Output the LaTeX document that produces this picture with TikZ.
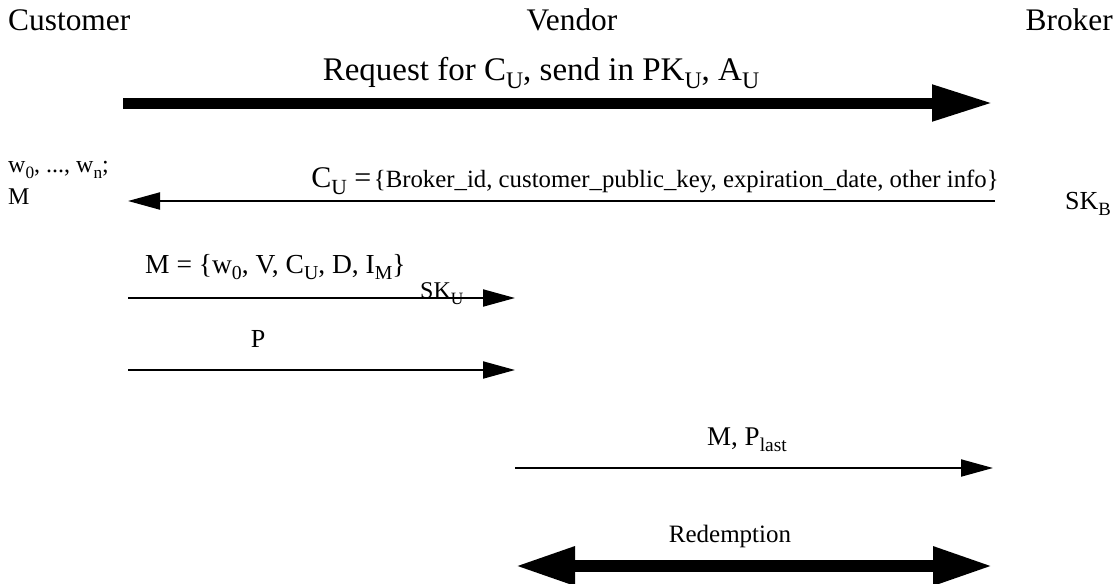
\documentclass[tikz,border=0pt]{standalone}
\usepackage{fontspec}
\setmainfont{Liberation Serif}
\usepackage{graphicx}
\usetikzlibrary{arrows.meta}
\newcommand{\sbs}[1]{\raisebox{-0.25em}{\scalebox{0.72}{#1}}}
\tikzset{
  party/.style={inner sep=0pt, font=\fontsize{31.4}{36}\selectfont},
  lbl/.style={inner sep=0pt, font=\fontsize{26}{30}\selectfont},
  small/.style={inner sep=0pt, font=\fontsize{24}{28}\selectfont},
  heavy/.style={line width=11pt, -{Triangle[length=61pt,width=34pt]}},
  heavyboth/.style={line width=12pt, {Triangle[length=60pt,width=36pt]}-{Triangle[length=60pt,width=36pt]}},
  light/.style={line width=2pt, -{Triangle[length=32pt,width=17pt]}},
}
\begin{document}
\begin{tikzpicture}[x=1pt,y=-1pt]
\useasboundingbox (0,0) rectangle (1120,584);
% parties
\node[party,anchor=base west] (cust) at (8,30) {Customer};
\node[party,anchor=base] (vend) at (572,30) {Vendor};
\node[party,anchor=base east] (brok) at (1113,30) {Broker};
% request
\coordinate (r1s) at (123,103);
\coordinate (r1e) at (993,103);
\draw[heavy] (r1s) -- (r1e);
\node[inner sep=0pt,anchor=base,font=\fontsize{33}{37}\selectfont] (req) at (541,80)
  {Request for C\sbs{U}, send in PK\sbs{U}, A\sbs{U}};
% certificate
\coordinate (c2s) at (995,201);
\coordinate (c2e) at (128,201);
\draw[light] (c2s) -- (c2e);
\node[inner sep=0pt,anchor=base] (cert) at (655,187)
  {{\fontsize{30}{34}\selectfont C\sbs{U} =} {\fontsize{24.8}{29}\selectfont\{Broker\_id, customer\_public\_key, expiration\_date, other info\}}};
\node[small,anchor=base west] (wl) at (8,172) {w\sbs{0}, ..., w\sbs{n};};
\node[small,anchor=base west] (ml) at (8,204) {M};
\node[inner sep=0pt,anchor=base west,font=\fontsize{26}{30}\selectfont] (skb) at (1065,209) {SK\sbs{B}};
% M message
\coordinate (m3s) at (128,298);
\coordinate (m3e) at (515,298);
\draw[light] (m3s) -- (m3e);
\node[inner sep=0pt,anchor=base west,font=\fontsize{27.5}{32}\selectfont] (mlbl) at (145,273) {M = \{w\sbs{0}, V, C\sbs{U}, D, I\sbs{M}\}};
\node[inner sep=0pt,anchor=base west,font=\fontsize{24}{28}\selectfont] (sku) at (420,298) {SK\sbs{U}};
% P message
\coordinate (p4s) at (128,370);
\coordinate (p4e) at (515,370);
\draw[light] (p4s) -- (p4e);
\node[lbl,anchor=base] (plbl) at (258,347) {P};
% M, P_last
\coordinate (l5s) at (515,468);
\coordinate (l5e) at (993,468);
\draw[light] (l5s) -- (l5e);
\node[inner sep=0pt,anchor=base,font=\fontsize{27}{31}\selectfont] (llbl) at (747,445) {M, P\sbs{last}};
% redemption
\coordinate (d6s) at (515,566);
\coordinate (d6e) at (993,566);
\draw[heavyboth] (d6s) -- (d6e);
\node[lbl,anchor=base,font=\fontsize{25}{30}\selectfont] (dlbl) at (730,542) {Redemption};
\end{tikzpicture}
\end{document}
